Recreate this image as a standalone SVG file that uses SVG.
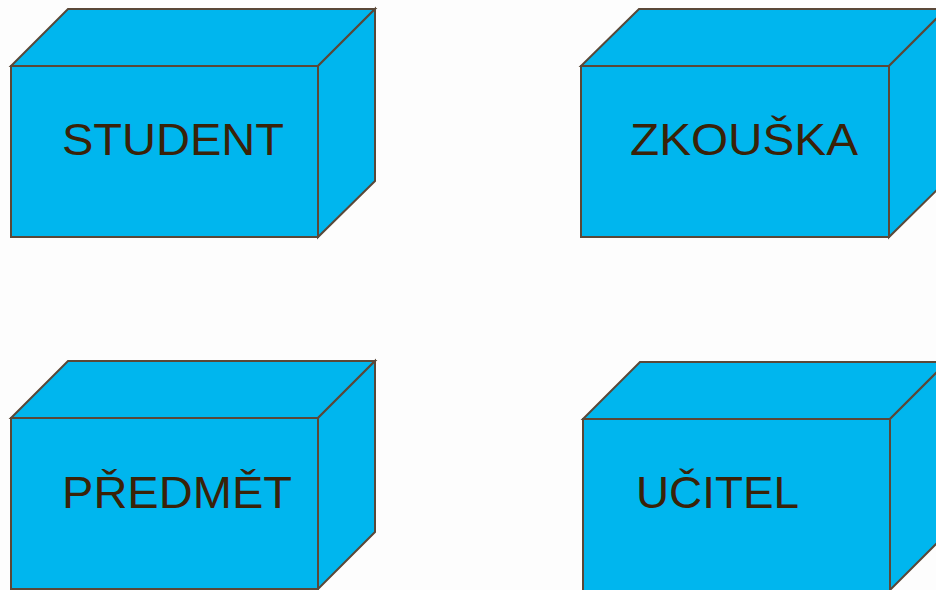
<svg xmlns="http://www.w3.org/2000/svg" width="936" height="590" viewBox="0 0 936 590">
<style>
.face{fill:#00b6ee;stroke:#5a4838;stroke-width:2;stroke-linejoin:miter}
.lbl{font-family:"Liberation Sans",Arial,sans-serif;font-size:45px;fill:#3a2208}
</style>
<rect width="936" height="590" fill="#fdfdfd"/>
<g id="student">
<polygon class="face" points="11,66 68,9 375,9 318,66"/>
<polygon class="face" points="318,66 375,9 375,181 318,237"/>
<rect class="face" x="11" y="66" width="307" height="171"/>
<text class="lbl" x="62" y="155" textLength="222" lengthAdjust="spacingAndGlyphs">STUDENT</text>
</g>
<g id="zkouska">
<polygon class="face" points="581,66 639,9 946,9 889,66"/>
<polygon class="face" points="889,66 946,9 946,181 889,237"/>
<rect class="face" x="581" y="66" width="308" height="171"/>
<text class="lbl" x="630" y="155" textLength="228" lengthAdjust="spacingAndGlyphs">ZKOUŠKA</text>
</g>
<g id="predmet">
<polygon class="face" points="11,418 68,361 375,361 318,418"/>
<polygon class="face" points="318,418 375,361 375,532 318,589"/>
<rect class="face" x="11" y="418" width="307" height="171"/>
<text class="lbl" x="62" y="508" textLength="230" lengthAdjust="spacingAndGlyphs">PŘEDMĚT</text>
</g>
<g id="ucitel">
<polygon class="face" points="583,419 640,362 947,362 890,419"/>
<polygon class="face" points="890,419 947,362 947,533 890,590"/>
<rect class="face" x="583" y="419" width="307" height="172"/>
<text class="lbl" x="636" y="508" textLength="163" lengthAdjust="spacingAndGlyphs">UČITEL</text>
</g>
<g id="connectors"/>
</svg>
